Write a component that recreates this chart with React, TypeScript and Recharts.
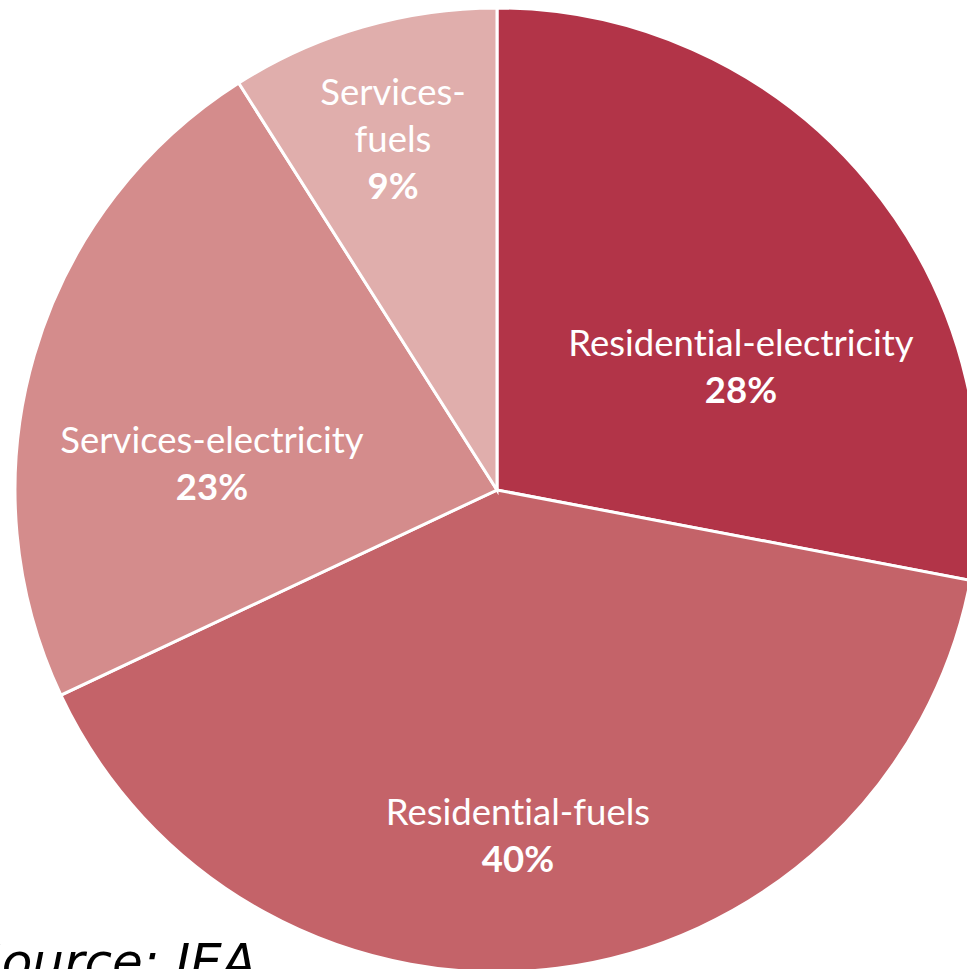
import { PieChart, Pie, Cell } from "recharts"

const categories = [
  "Residential-electricity",
  "Residential-fuels",
  "Services-electricity",
  "Services-fuels",
]
const shares = [28, 40, 23, 9]
const colors = ["#b23448", "#c46369", "#d48c8c", "#e0aeac"]

// where each label sits, measured from the pie centre (first baseline)
const labelSpots = [
  { dx: 244, dy: -134, wrap: false },
  { dx: 21, dy: 335, wrap: false },
  { dx: -285, dy: -37, wrap: false },
  { dx: -104, dy: -385, wrap: true },
]

const data = categories.map((name, i) => ({ name, value: shares[i] }))

const LINE = 47

function SliceLabel(props: any) {
  const { cx, cy, index } = props
  const spot = labelSpots[index]
  const name: string = categories[index]
  const lines = spot.wrap
    ? [name.slice(0, name.indexOf("-") + 1), name.slice(name.indexOf("-") + 1)]
    : [name]
  const x = cx + spot.dx
  const y = cy + spot.dy
  return (
    <text
      x={x}
      y={y}
      textAnchor="middle"
      fill="#ffffff"
      style={{
        fontFamily: "Lato, sans-serif",
        fontSize: 36.5,
        fontVariantLigatures: "none",
      }}
    >
      {lines.map((l, i) => (
        <tspan key={i} x={x} y={y + i * LINE}>
          {l}
        </tspan>
      ))}
      <tspan x={x} y={y + lines.length * LINE} fontWeight={700}>
        {shares[index]}%
      </tspan>
    </text>
  )
}

export default function App() {
  return (
    <div
      style={{
        position: "absolute",
        left: 0,
        top: 0,
        width: 967,
        height: 969,
        overflow: "hidden",
        background: "#fff",
      }}
    >
      <PieChart width={967} height={969} margin={{ top: 0, right: 0, bottom: 0, left: 0 }}>
        <Pie
          data={data}
          dataKey="value"
          nameKey="name"
          cx={497}
          cy={490}
          outerRadius={482}
          startAngle={90}
          endAngle={-270}
          stroke="#ffffff"
          strokeWidth={3}
          label={SliceLabel}
          labelLine={false}
          isAnimationActive={false}
        >
          {data.map((d, i) => (
            <Cell key={d.name} fill={colors[i]} />
          ))}
        </Pie>
      </PieChart>
      <div
        style={{
          position: "absolute",
          left: -30,
          top: 937,
          fontFamily: "'DejaVu Sans', sans-serif",
          fontStyle: "italic",
          fontSize: 50,
          lineHeight: "50px",
          color: "#000",
          whiteSpace: "nowrap",
        }}
      >
        Source: IEA
      </div>
    </div>
  )
}
